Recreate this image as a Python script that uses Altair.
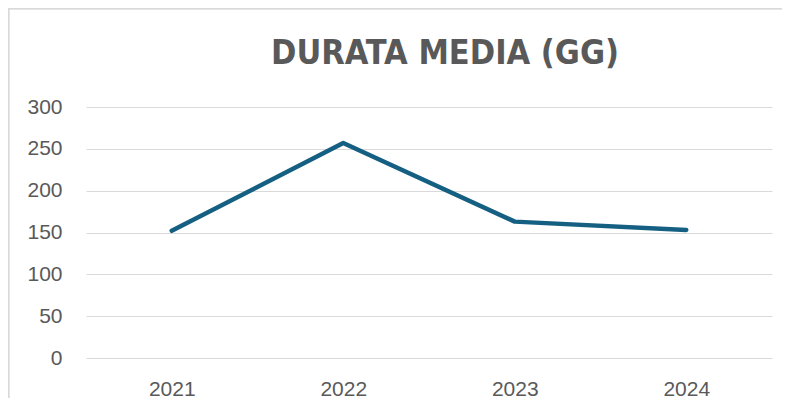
import altair as alt
import pandas as pd

years = ["2021", "2022", "2023", "2024"]
durata = [152, 257, 163, 153]

df = pd.DataFrame({"anno": years, "durata": durata})

W, H = 686, 251
PL, PT, PR, PB = 78, 99, 10, 40

line = alt.Chart(df).mark_line(
    color="#156082", strokeWidth=4.5, strokeCap="round", strokeJoin="round"
).encode(
    x=alt.X("anno:O", sort=years, title=None,
            scale=alt.Scale(type="point", padding=0.5),
            axis=alt.Axis(labelAngle=0, domain=False, ticks=False, tickSize=0,
                          labelPadding=20, grid=False)),
    y=alt.Y("durata:Q", title=None,
            scale=alt.Scale(domain=[0, 300], nice=False),
            axis=alt.Axis(values=[0, 50, 100, 150, 200, 250, 300], domain=False,
                          ticks=False, tickSize=0, labelPadding=24,
                          grid=True, gridColor="#d9d9d9", gridWidth=1)),
)

frame_left = alt.Chart(df).mark_rule(color="#d9d9d9", strokeWidth=1.5).encode(
    x=alt.value(-PL + 0.5), y=alt.value(-PT), y2=alt.value(H + PB)
)
frame_top = alt.Chart(df).mark_rule(color="#d9d9d9", strokeWidth=1.5).encode(
    x=alt.value(-PL), x2=alt.value(W + PR), y=alt.value(-PT + 0.5)
)

chart = alt.layer(frame_left, frame_top, line).properties(
    width=W, height=H,
    background="white",
    autosize=alt.AutoSizeParams(type="none"),
    padding={"left": PL, "top": PT, "right": PR, "bottom": PB},
    title=alt.TitleParams(
        "DURATA MEDIA (GG)", anchor="middle", frame="group", dx=16, offset=-64,
        font="DejaVu Sans Condensed, sans-serif",
        fontSize=34, fontWeight="bold", color="#595959",
    ),
).configure_view(stroke=None).configure_axis(
    labelFont="Liberation Sans", labelFontSize=21, labelColor="#595959"
)

chart.save("out.html", embed_options={"renderer": "svg", "actions": False})
